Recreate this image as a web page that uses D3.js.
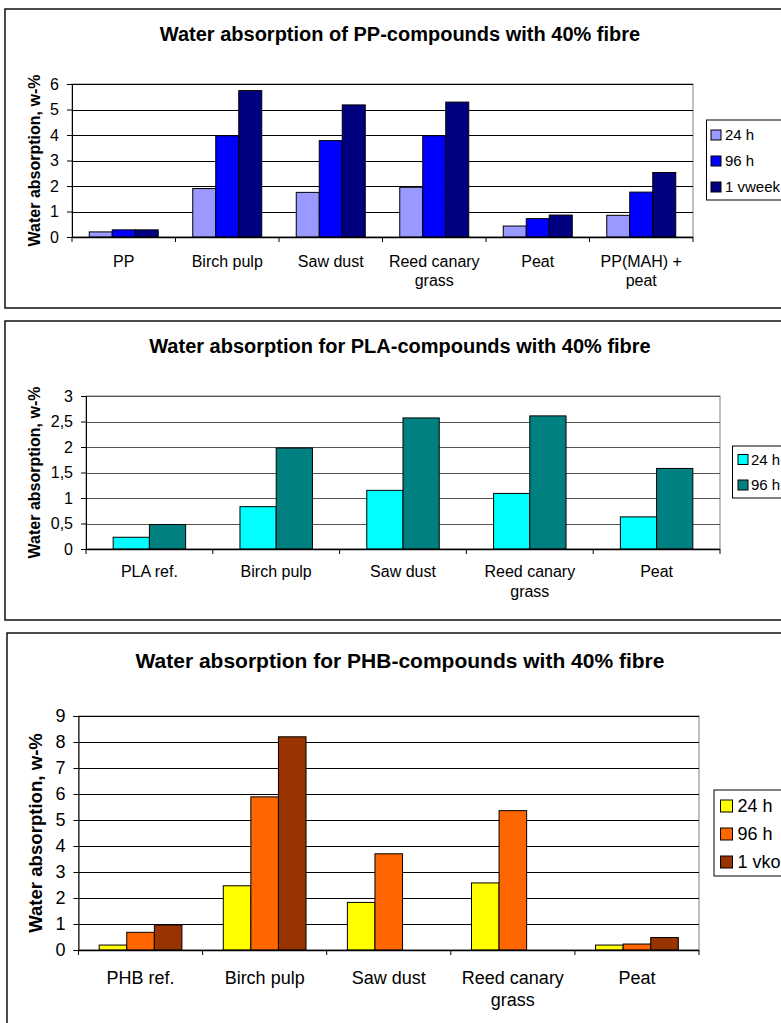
<!DOCTYPE html>
<html>
<head>
<meta charset="utf-8">
<script src="https://cdn.jsdelivr.net/npm/d3@7/dist/d3.min.js"></script>
<style>
  html, body { margin: 0; padding: 0; background: #fff; }
  svg { display: block; }
  text { font-family: "Liberation Sans", Arial, Helvetica, sans-serif; fill: #000; }
</style>
</head>
<body>
<svg id="page" width="781" height="1023"></svg>
<script>
// ---- PP compounds ----
const ppCategories = ["PP", "Birch pulp", "Saw dust", "Reed canary grass", "Peat", "PP(MAH) + peat"];
const ppSeriesNames = ["24 h", "96 h", "1 vweek"];
const pp24h   = [0.20, 1.90, 1.75, 1.95, 0.43, 0.85];
const pp96h   = [0.28, 3.97, 3.78, 3.97, 0.72, 1.76];
const pp1week = [0.28, 5.74, 5.18, 5.29, 0.86, 2.53];
const ppTicks = [0, 1, 2, 3, 4, 5, 6];

// ---- PLA compounds ----
const plaCategories = ["PLA ref.", "Birch pulp", "Saw dust", "Reed canary grass", "Peat"];
const plaSeriesNames = ["24 h", "96 h"];
const pla24h = [0.23, 0.83, 1.15, 1.09, 0.63];
const pla96h = [0.48, 1.98, 2.57, 2.61, 1.58];
const plaTicks = [0, 0.5, 1, 1.5, 2, 2.5, 3];

// ---- PHB compounds ----
const phbCategories = ["PHB ref.", "Birch pulp", "Saw dust", "Reed canary grass", "Peat"];
const phbSeriesNames = ["24 h", "96 h", "1 vko"];
const phb24h  = [0.19, 2.47, 1.83, 2.58, 0.19];
const phb96h  = [0.68, 5.89, 3.70, 5.36, 0.23];
const phb1vko = [0.96, 8.20, null, null, 0.48];
const phbTicks = [0, 1, 2, 3, 4, 5, 6, 7, 8, 9];

const yTitle = "Water absorption, w-%";
const fmt = d3.formatLocale({ decimal: ",", thousands: " ", grouping: [3], currency: ["", ""] }).format(".1~f");

const svg = d3.select("#page");

function wrapWords(textSel, label, maxWidth, lineHeight) {
  const words = label.split(" ");
  const lines = [];
  let current = [];
  const probe = textSel.append("tspan");
  words.forEach(w => {
    const trial = current.concat([w]).join(" ");
    probe.text(trial);
    if (current.length && probe.node().getComputedTextLength() > maxWidth) {
      lines.push(current.join(" "));
      current = [w];
    } else {
      current.push(w);
    }
  });
  lines.push(current.join(" "));
  probe.remove();
  lines.forEach((ln, i) => {
    textSel.append("tspan").attr("x", textSel.attr("x")).attr("dy", i === 0 ? 0 : lineHeight).text(ln);
  });
}

function drawChart(cfg) {
  const g = svg.append("g");

  // outer chart frame (runs off the right edge of the page)
  g.append("rect")
    .attr("x", cfg.frame.x).attr("y", cfg.frame.y)
    .attr("width", 900).attr("height", cfg.frame.bottom - cfg.frame.y)
    .attr("fill", "#fff").attr("stroke", "#111").attr("stroke-width", 1.5);

  // title
  g.append("text")
    .attr("x", cfg.titleX).attr("y", cfg.titleY)
    .attr("text-anchor", "middle")
    .attr("font-weight", "bold").attr("font-size", cfg.titleSize)
    .text(cfg.title);

  const p = cfg.plot;
  const x = d3.scaleBand().domain(cfg.categories).range([p.left, p.right]);
  const y = d3.scaleLinear().domain([0, d3.max(cfg.ticks)]).range([p.bottom, p.top]);
  const n = cfg.series.length;
  const barW = x.bandwidth() / (n + 1.5);
  const inner = d3.scaleBand().domain(d3.range(n)).range([0, barW * n]);

  // plot area border
  g.append("rect")
    .attr("x", p.left).attr("y", p.top)
    .attr("width", p.right - p.left).attr("height", p.bottom - p.top)
    .attr("fill", "none").attr("stroke", "#808080").attr("stroke-width", 1);

  // horizontal gridlines
  g.append("g").selectAll("line")
    .data(cfg.ticks.filter(t => t > 0))
    .join("line")
    .attr("x1", p.left).attr("x2", p.right)
    .attr("y1", d => Math.round(y(d)) + 0.5).attr("y2", d => Math.round(y(d)) + 0.5)
    .attr("stroke", cfg.gridColor).attr("stroke-width", 1);

  // bars
  cfg.series.forEach((s, si) => {
    g.append("g").selectAll("rect")
      .data(s.values.map((v, i) => ({ v, c: cfg.categories[i] })).filter(d => d.v != null))
      .join("rect")
      .attr("x", d => x(d.c) + (x.bandwidth() - barW * n) / 2 + inner(si))
      .attr("y", d => y(d.v))
      .attr("width", barW)
      .attr("height", d => y(0) - y(d.v))
      .attr("fill", s.color)
      .attr("stroke", "#000").attr("stroke-width", 1);
  });

  // y axis
  const yAxis = g.append("g")
    .attr("transform", `translate(${p.left},0)`)
    .call(d3.axisLeft(y).tickValues(cfg.ticks).tickFormat(fmt).tickSize(5).tickPadding(8));
  yAxis.select(".domain").attr("stroke", "#000");
  yAxis.selectAll(".tick line").attr("stroke", "#000");
  yAxis.selectAll("text").attr("font-size", cfg.fontSize).attr("font-family", null).attr("fill", "#000");

  // x axis line with tick marks at category boundaries
  g.append("line")
    .attr("x1", p.left).attr("x2", p.right)
    .attr("y1", p.bottom + 0.5).attr("y2", p.bottom + 0.5)
    .attr("stroke", "#000").attr("stroke-width", 1.5);
  const bounds = cfg.categories.map(c => x(c)).concat([p.right]);
  g.append("g").selectAll("line")
    .data(bounds).join("line")
    .attr("x1", d => d).attr("x2", d => d)
    .attr("y1", p.bottom).attr("y2", p.bottom + 5)
    .attr("stroke", "#000");

  // category labels
  cfg.categories.forEach(c => {
    const t = g.append("text")
      .attr("x", x(c) + x.bandwidth() / 2)
      .attr("y", cfg.catBaseline)
      .attr("text-anchor", "middle")
      .attr("font-size", cfg.fontSize);
    wrapWords(t, c, x.bandwidth() - 6, cfg.lineHeight);
  });

  // y axis title
  g.append("text")
    .attr("transform", `translate(${cfg.yTitleX},${(p.top + p.bottom) / 2}) rotate(-90)`)
    .attr("text-anchor", "middle")
    .attr("font-weight", "bold").attr("font-size", cfg.yTitleSize)
    .text(yTitle);

  // legend
  const L = cfg.legend;
  g.append("rect")
    .attr("x", L.x).attr("y", L.y).attr("width", 200).attr("height", L.h)
    .attr("fill", "#fff").attr("stroke", "#000").attr("stroke-width", 1);
  cfg.series.forEach((s, i) => {
    const cy = L.firstRow + i * L.rowGap;
    g.append("rect")
      .attr("x", L.swatchX).attr("y", cy - L.swatch / 2)
      .attr("width", L.swatch).attr("height", L.swatch)
      .attr("fill", s.color).attr("stroke", "#000").attr("stroke-width", 1);
    g.append("text")
      .attr("x", L.textX).attr("y", cy).attr("dy", "0.36em")
      .attr("font-size", L.fontSize)
      .text(s.name);
  });
}

drawChart({
  title: "Water absorption of PP-compounds with 40% fibre",
  titleX: 400, titleY: 41, titleSize: 20,
  frame: { x: 5, y: 9, bottom: 308 },
  plot: { left: 72, right: 693, top: 84, bottom: 237 },
  categories: ppCategories,
  ticks: ppTicks,
  series: [
    { name: ppSeriesNames[0], values: pp24h, color: "#9999FF" },
    { name: ppSeriesNames[1], values: pp96h, color: "#0000FF" },
    { name: ppSeriesNames[2], values: pp1week, color: "#000080" }
  ],
  gridColor: "#000",
  fontSize: 16, yTitleSize: 16, yTitleX: 39.5,
  catBaseline: 267, lineHeight: 19,
  legend: { x: 706.5, y: 120, h: 80, firstRow: 135, rowGap: 26, swatchX: 711, swatch: 10, textX: 725, fontSize: 15 }
});

drawChart({
  title: "Water absorption for PLA-compounds with 40% fibre",
  titleX: 400, titleY: 353, titleSize: 20,
  frame: { x: 5, y: 321, bottom: 620 },
  plot: { left: 86, right: 720, top: 396, bottom: 549 },
  categories: plaCategories,
  ticks: plaTicks,
  series: [
    { name: plaSeriesNames[0], values: pla24h, color: "#00FFFF" },
    { name: plaSeriesNames[1], values: pla96h, color: "#008080" }
  ],
  gridColor: "#555",
  fontSize: 16, yTitleSize: 16, yTitleX: 40,
  catBaseline: 577, lineHeight: 20,
  legend: { x: 732.5, y: 446, h: 52, firstRow: 459.5, rowGap: 25.5, swatchX: 738, swatch: 10, textX: 751, fontSize: 15 }
});

drawChart({
  title: "Water absorption for PHB-compounds with 40% fibre",
  titleX: 400, titleY: 668, titleSize: 21,
  frame: { x: 7, y: 633, bottom: 1040 },
  plot: { left: 78.5, right: 699, top: 716, bottom: 950 },
  categories: phbCategories,
  ticks: phbTicks,
  series: [
    { name: phbSeriesNames[0], values: phb24h, color: "#FFFF00" },
    { name: phbSeriesNames[1], values: phb96h, color: "#FF6600" },
    { name: phbSeriesNames[2], values: phb1vko, color: "#993300" }
  ],
  gridColor: "#000",
  fontSize: 18, yTitleSize: 18.6, yTitleX: 41.5,
  catBaseline: 984, lineHeight: 22,
  legend: { x: 714, y: 790, h: 86, firstRow: 806, rowGap: 28, swatchX: 720.5, swatch: 12, textX: 737.5, fontSize: 18 }
});
</script>
</body>
</html>
